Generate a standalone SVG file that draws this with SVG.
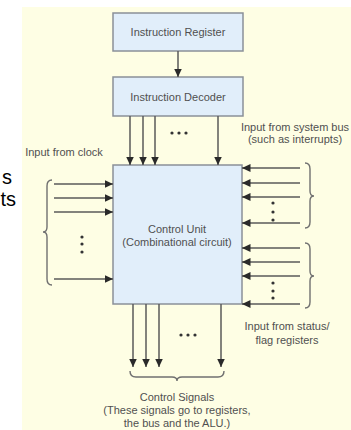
<svg xmlns="http://www.w3.org/2000/svg" width="351" height="430" viewBox="0 0 351 430">
<style>
.box{fill:#e1eefa;stroke:#8a9098;stroke-width:1.5}
.t{font-family:"Liberation Sans",Arial,sans-serif;font-size:11px;fill:#505050;text-anchor:middle}
.w{stroke:#5a5a5a;stroke-width:1.5;fill:none}
.br{stroke:#707070;stroke-width:1.4;fill:none}
.dot{fill:#333}
.frag{font-family:"Liberation Sans",Arial,sans-serif;font-size:20px;fill:#000}
</style>
<defs>
<marker id="ah" markerUnits="userSpaceOnUse" markerWidth="10" markerHeight="9" refX="8.5" refY="4" orient="auto">
<path d="M0,0 L8.5,4 L0,8 z" fill="#2a2a2a"/>
</marker>
</defs>
<rect x="0" y="0" width="351" height="430" fill="#ffffff"/>
<rect x="22" y="7" width="329" height="423" fill="#fefee4"/>
<g id="slide-fragment">
<text class="frag" x="2" y="184">s</text>
<text class="frag" x="0.5" y="206">ts</text>
</g>
<g id="instruction-register">
<rect class="box" x="113" y="13" width="130" height="38"/>
<text class="t" x="178" y="36">Instruction Register</text>
</g>
<g id="instruction-decoder">
<rect class="box" x="113" y="77" width="130" height="39"/>
<text class="t" x="178" y="101">Instruction Decoder</text>
</g>
<g id="control-unit">
<rect class="box" x="113" y="165" width="129" height="139"/>
<text class="t" x="177" y="233">Control Unit</text>
<text class="t" x="177" y="246">(Combinational circuit)</text>
</g>
<g id="connectors">
<line class="w" x1="178" y1="51" x2="178" y2="77" marker-end="url(#ah)"/>
<line class="w" x1="130" y1="116" x2="130" y2="165" marker-end="url(#ah)"/>
<line class="w" x1="143" y1="116" x2="143" y2="165" marker-end="url(#ah)"/>
<line class="w" x1="155" y1="116" x2="155" y2="165" marker-end="url(#ah)"/>
<line class="w" x1="218" y1="116" x2="218" y2="165" marker-end="url(#ah)"/>
<line class="w" x1="54" y1="184" x2="113" y2="184" marker-end="url(#ah)"/>
<line class="w" x1="54" y1="198" x2="113" y2="198" marker-end="url(#ah)"/>
<line class="w" x1="54" y1="212" x2="113" y2="212" marker-end="url(#ah)"/>
<line class="w" x1="54" y1="279" x2="113" y2="279" marker-end="url(#ah)"/>
<line class="w" x1="300" y1="168" x2="242" y2="168" marker-end="url(#ah)"/>
<line class="w" x1="300" y1="183" x2="242" y2="183" marker-end="url(#ah)" stroke-width="2.4"/>
<line class="w" x1="300" y1="197" x2="242" y2="197" marker-end="url(#ah)"/>
<line class="w" x1="300" y1="223" x2="242" y2="223" marker-end="url(#ah)"/>
<line class="w" x1="300" y1="248" x2="242" y2="248" marker-end="url(#ah)" stroke="#999"/>
<line class="w" x1="300" y1="262" x2="242" y2="262" marker-end="url(#ah)" stroke="#888"/>
<line class="w" x1="300" y1="276" x2="242" y2="276" marker-end="url(#ah)"/>
<line class="w" x1="300" y1="304" x2="242" y2="304" marker-end="url(#ah)"/>
<line class="w" x1="133" y1="304" x2="133" y2="367" marker-end="url(#ah)"/>
<line class="w" x1="146" y1="304" x2="146" y2="367" marker-end="url(#ah)"/>
<line class="w" x1="159" y1="304" x2="159" y2="367" marker-end="url(#ah)"/>
<line class="w" x1="221" y1="304" x2="221" y2="367" marker-end="url(#ah)"/>
</g>
<g id="braces">
<path class="br" d="M52,180 Q47,180 47,186 L47,227 Q47,232 43,232 Q47,232 47,237 L47,279 Q47,285 52,285"/>
<path class="br" d="M305,163 Q310,163 310,169 L310,191 Q310,196 314,196 Q310,196 310,201 L310,222 Q310,228 305,228"/>
<path class="br" d="M305,243 Q310,243 310,249 L310,271 Q310,276 314,276 Q310,276 310,281 L310,302 Q310,308 305,308"/>
<path class="br" d="M130,371 Q130,377 136,377 L172,377 Q177,377 177,381 Q177,377 182,377 L218,377 Q224,377 224,371"/>
</g>
<g id="ellipses">
<circle class="dot" cx="172" cy="133" r="1.6"/><circle class="dot" cx="179" cy="133" r="1.6"/><circle class="dot" cx="186" cy="133" r="1.6"/>
<circle class="dot" cx="82" cy="237" r="1.6"/><circle class="dot" cx="82" cy="244" r="1.6"/><circle class="dot" cx="82" cy="252" r="1.6"/>
<circle class="dot" cx="273" cy="203" r="1.6"/><circle class="dot" cx="273" cy="212" r="1.6"/><circle class="dot" cx="273" cy="220" r="1.6"/>
<circle class="dot" cx="273" cy="283" r="1.6"/><circle class="dot" cx="273" cy="291" r="1.6"/><circle class="dot" cx="273" cy="298" r="1.6"/>
<circle class="dot" cx="181" cy="335" r="1.6"/><circle class="dot" cx="188" cy="335" r="1.6"/><circle class="dot" cx="195" cy="335" r="1.6"/>
</g>
<g id="labels">
<text class="t" x="295" y="131">Input from system bus</text>
<text class="t" x="295" y="143">(such as interrupts)</text>
<text class="t" x="64" y="156">Input from clock</text>
<text class="t" x="287" y="330">Input from status/</text>
<text class="t" x="287" y="344">flag registers</text>
<text class="t" x="177" y="401">Control Signals</text>
<text class="t" x="177" y="414">(These signals go to registers,</text>
<text class="t" x="177" y="427">the bus and the ALU.)</text>
</g>
</svg>
